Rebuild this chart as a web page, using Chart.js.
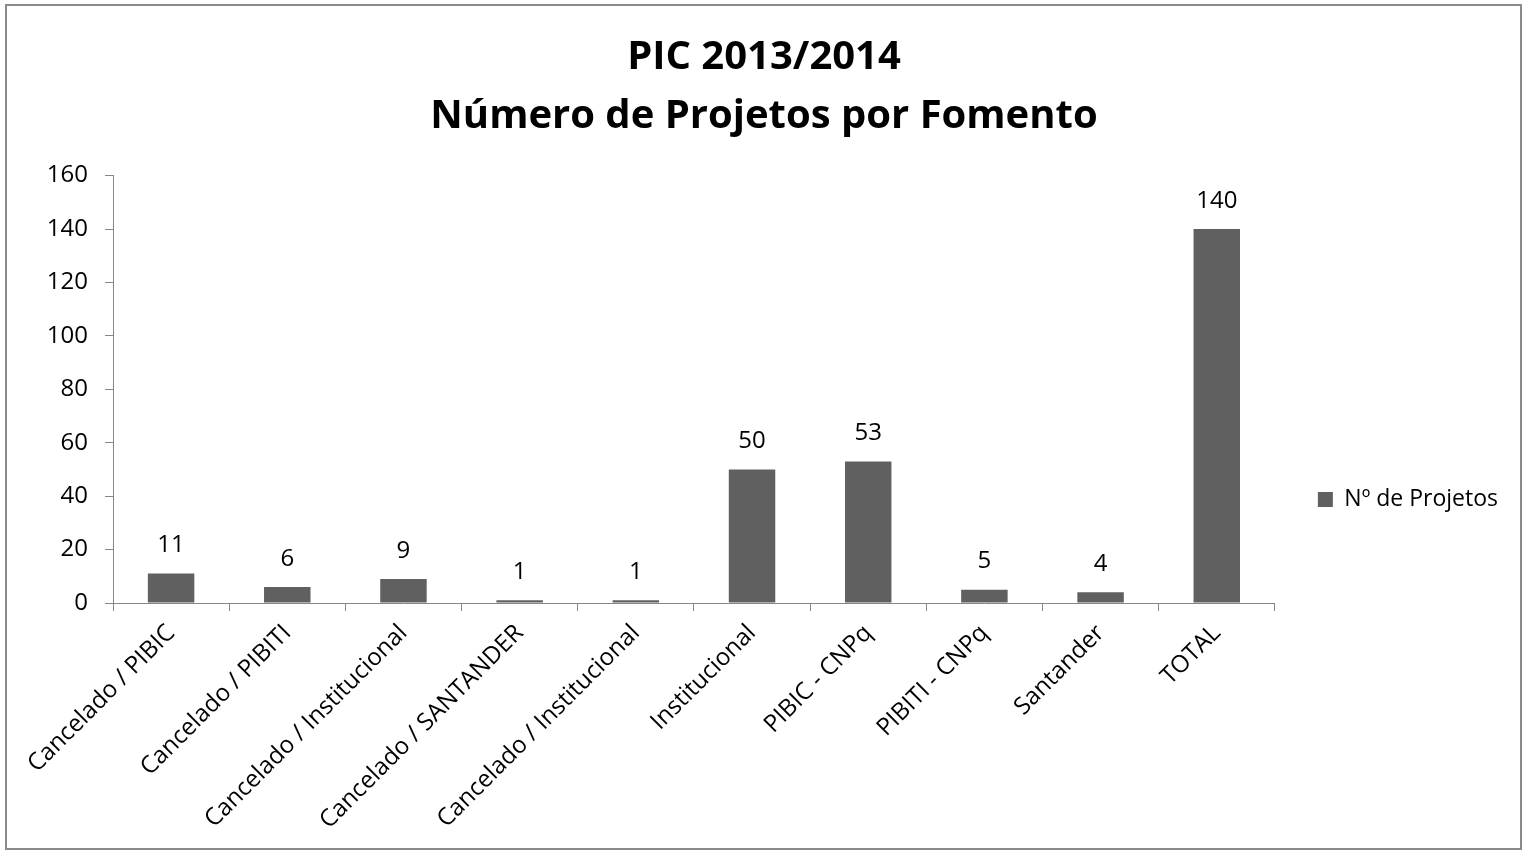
<!DOCTYPE html>
<html>
<head>
<meta charset="utf-8">
<script src="https://cdn.jsdelivr.net/npm/chart.js@4/dist/chart.umd.min.js"></script>
<style>
  html, body { margin: 0; padding: 0; background: #ffffff; }
  #wrap { position: relative; width: 1525px; height: 851px; }
  #frame { position: absolute; left: 5px; top: 4px; width: 1517px; height: 846px; box-sizing: border-box; border: 2px solid #8a8a8a; pointer-events: none; }
  canvas { position: absolute; left: 0; top: 0; }
</style>
</head>
<body>
<div id="wrap">
  <canvas id="c" width="1525" height="851"></canvas>
  <div id="frame"></div>
</div>
<script>
const titleLines = ['PIC 2013/2014', 'Número de Projetos por Fomento'];
const categories = [
  'Cancelado / PIBIC',
  'Cancelado / PIBITI',
  'Cancelado / Institucional',
  'Cancelado / SANTANDER',
  'Cancelado / Institucional',
  'Institucional',
  'PIBIC - CNPq',
  'PIBITI - CNPq',
  'Santander',
  'TOTAL'
];
const seriesName = 'Nº de Projetos';
const seriesValues = [11, 6, 9, 1, 1, 50, 53, 5, 4, 140];
const yMin = 0, yMax = 160, yStep = 20;

const FONT = "'Open Sans', 'Liberation Sans', sans-serif";
const AXIS = '#868686';
const BAR = '#606060';

const valueLabels = {
  id: 'valueLabels',
  afterDatasetsDraw(chart) {
    const ctx = chart.ctx;
    ctx.save();
    ctx.font = '24px ' + FONT;
    ctx.fillStyle = '#000';
    ctx.textAlign = 'center';
    ctx.textBaseline = 'middle';
    chart.data.datasets.forEach((ds, di) => {
      chart.getDatasetMeta(di).data.forEach((bar, i) => {
        ctx.fillText(String(ds.data[i]), bar.x, bar.y - 28);
      });
    });
    ctx.restore();
  }
};

new Chart(document.getElementById('c'), {
  type: 'bar',
  data: {
    labels: categories,
    datasets: [{
      label: seriesName,
      data: seriesValues,
      backgroundColor: BAR,
      borderWidth: 0,
      categoryPercentage: 1.0,
      barPercentage: 0.4
    }]
  },
  options: {
    responsive: false,
    animation: false,
    devicePixelRatio: 1,
    layout: { padding: { left: 20, right: 17, top: 0, bottom: 0 } },
    plugins: {
      title: {
        display: true,
        text: titleLines,
        color: '#000',
        font: { family: FONT, size: 40, weight: 'bold', lineHeight: 1.47 },
        padding: { top: 28, bottom: 30 }
      },
      legend: {
        display: true,
        position: 'right',
        title: { display: true, text: '', font: { size: 10 }, padding: { top: 0, bottom: 136 } },
        labels: {
          color: '#000',
          font: { family: FONT, size: 23 },
          boxWidth: 15,
          boxHeight: 15,
          padding: 43
        }
      },
      tooltip: { enabled: false }
    },
    scales: {
      x: {
        grid: { display: true, drawOnChartArea: false, drawTicks: true, tickLength: 8, color: AXIS, offset: true },
        border: { display: true, color: AXIS, width: 1 },
        ticks: { color: '#000', font: { family: FONT, size: 24 }, minRotation: 45, maxRotation: 45, padding: 8, autoSkip: false },
        afterFit(scale) { scale.height = 248; }
      },
      y: {
        min: yMin, max: yMax,
        grid: { display: true, drawOnChartArea: false, drawTicks: true, tickLength: 8, color: AXIS },
        border: { display: true, color: AXIS, width: 1 },
        ticks: { stepSize: yStep, color: '#000', font: { family: FONT, size: 24 }, padding: 17 },
        afterFit(scale) { scale.width = 93; }
      }
    }
  },
  plugins: [valueLabels]
});
</script>
</body>
</html>
